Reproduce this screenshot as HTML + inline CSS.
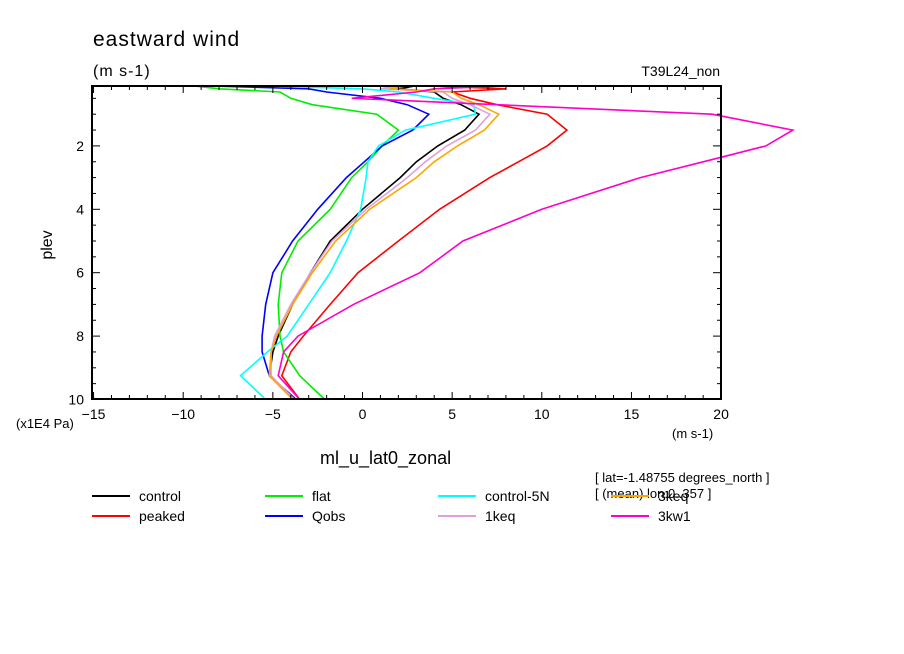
<!DOCTYPE html>
<html><head><meta charset="utf-8"><style>
body{margin:0;background:#fff;}
svg{display:block;font-family:"Liberation Sans",sans-serif;}
</style></head><body>
<svg id="chart" width="904" height="654" viewBox="0 0 904 654">
<rect x="0" y="0" width="904" height="654" fill="#fff"/>
<text x="93" y="46" font-size="21" letter-spacing="1">eastward wind</text>
<text x="93" y="76" font-size="16" letter-spacing="1">(m s-1)</text>
<text x="720" y="76" font-size="14" text-anchor="end">T39L24_non</text>
<g id="series"></g>
<g id="axes"></g>
<text transform="translate(52,245) rotate(-90)" font-size="16" text-anchor="middle">plev</text>
<text x="16" y="428" font-size="13">(x1E4 Pa)</text>
<text x="672" y="438" font-size="13">(m s-1)</text>
<text x="320" y="464" font-size="18">ml_u_lat0_zonal</text>
<text x="595" y="482" font-size="13">[ lat=-1.48755 degrees_north ]</text>
<text x="595" y="498" font-size="13">[ (mean) lon:0..357 ]</text>
<g id="legend"></g>
</svg>
<script>
const levels=[0.1,0.2,0.3,0.5,0.7,1,1.5,2,2.5,3,4,5,6,7,8,8.5,9.25,10];
const seriesNames=["control","peaked","flat","Qobs","control-5N","1keq","3keq","3kw1"];
const seriesColors=["#000000","#ff0000","#00ee00","#0000ff","#00ffff","#dda0dd","#ffa500","#ff00c8"];
const control=[3,2,4,4.5,5.5,6.5,5.7,4.2,3.0,2.1,0,-1.8,-2.9,-3.9,-4.7,-5.0,-5.2,-3.8];
const peaked=[3.5,8,5,6,7.5,10.3,11.4,10.3,8.7,7.1,4.3,2.0,-0.25,-1.8,-3.3,-4.0,-4.5,-3.5];
const flat=[-9.5,-8,-4.6,-4.0,-2.8,0.8,2.0,1.1,0.3,-0.6,-1.8,-3.6,-4.5,-4.7,-4.6,-4.4,-3.5,-2.1];
const qobs=[-9.0,-3,-2,1,2.5,3.7,2.8,1.1,0.1,-0.9,-2.5,-3.9,-5.0,-5.4,-5.6,-5.6,-5.2,-3.7];
const control5N=[-6,0,2,4,6.2,6.3,2.4,0.9,0.3,0.2,-0.1,-0.9,-1.8,-3.0,-4.2,-5.3,-6.8,-5.4];
const keq1=[2,1,4.5,5,6,7.1,6.3,4.7,3.5,2.5,0.2,-1.7,-2.9,-4.0,-4.9,-5.1,-5.1,-3.8];
const keq3=[2.5,1.5,5,5.5,6.5,7.6,6.8,5.3,4.0,3.0,0.4,-1.5,-2.8,-3.9,-4.8,-5.1,-5.2,-3.9];
const kw1=[8.2,4,3,-0.6,7.5,19.5,24.0,22.5,19,15.5,10.0,5.6,3.2,-0.5,-3.6,-4.4,-4.7,-3.5];
const allSeries=[control,peaked,flat,qobs,control5N,keq1,keq3,kw1];
const xTicks=[-15,-10,-5,0,5,10,15,20];
const yTicks=[2,4,6,8,10];
const NS="http://www.w3.org/2000/svg";
const xs=u=>362.5+17.93*u;
const ys=p=>82.5+31.7*p;
function mk(tag,attrs,parent){const e=document.createElementNS(NS,tag);for(const k in attrs)e.setAttribute(k,attrs[k]);parent.appendChild(e);return e;}
const sg=document.getElementById('series');
allSeries.forEach((s,i)=>{
  const pts=s.map((v,j)=>xs(v).toFixed(1)+","+ys(levels[j]).toFixed(1)).join(" ");
  const pl=mk('polyline',{points:pts,fill:'none',stroke:seriesColors[i],'stroke-width':1.6},sg);
  
  
});
const ax=document.getElementById('axes');
const fr=mk('rect',{x:92,y:86,width:629,height:313,fill:'none',stroke:'#000','stroke-width':2},ax);


for(let u=-15;u<=20;u++){
  const L=(u%5===0)?7:4;
  mk('line',{x1:xs(u),x2:xs(u),y1:399,y2:399-L,stroke:'#000','stroke-width':1},ax);
  mk('line',{x1:xs(u),x2:xs(u),y1:86,y2:86+L,stroke:'#000','stroke-width':1},ax);
}
for(let p=0.5;p<=10;p+=0.5){
  const L=(Math.abs(p%2)<0.01)?8:4;
  mk('line',{x1:92,x2:92+L,y1:ys(p),y2:ys(p),stroke:'#000','stroke-width':1},ax);
  mk('line',{x1:721,x2:721-L,y1:ys(p),y2:ys(p),stroke:'#000','stroke-width':1},ax);
}
xTicks.forEach(t=>{
  const tx=mk('text',{x:xs(t),y:419,'font-size':14,'text-anchor':'middle'},ax);
  tx.textContent=(t<0?"\u2212":"")+Math.abs(t);
  
  
});
yTicks.forEach(t=>{
  const tx=mk('text',{x:84,y:ys(t)+5,'font-size':14,'text-anchor':'end'},ax);
  tx.textContent=t;
  
  
});
const lg=document.getElementById('legend');
const legendOrder=[0,2,4,6,1,3,5,7];
const colX=[92,265,438,611];
legendOrder.forEach((si,k)=>{
  const col=k%4,row=Math.floor(k/4);
  const y=496+row*20;
  const g=mk('g',{},lg);
  
  
  mk('line',{x1:colX[col],x2:colX[col]+38,y1:y,y2:y,stroke:seriesColors[si],'stroke-width':2},g);
  const t=mk('text',{x:colX[col]+47,y:y+5,'font-size':14},g);
  t.textContent=seriesNames[si];
});
</script>
</body></html>
